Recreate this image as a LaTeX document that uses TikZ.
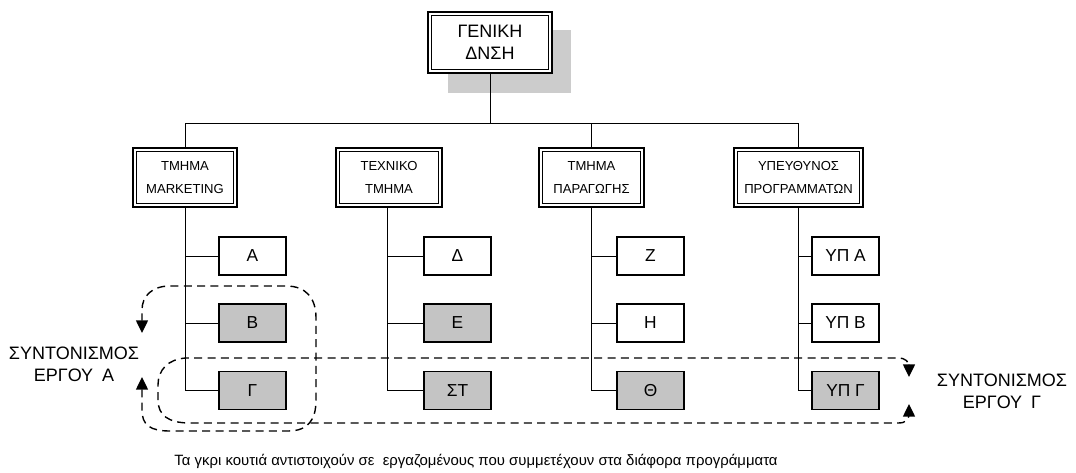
\documentclass[tikz,border=0pt]{standalone}
\usepackage{fontspec}
\setmainfont{Liberation Sans}
\usetikzlibrary{arrows.meta}
\definecolor{shadowgray}{RGB}{204,204,204}
\definecolor{staffgray}{RGB}{196,196,196}

\begin{document}
\begin{tikzpicture}[x=0.75pt,y=-0.75pt,
  conn/.style={line width=0.75pt},
  framed/.style={draw, line width=1.4pt, align=center, inner sep=0pt, fill=white,
    path picture={\draw[line width=0.6pt]
      ([shift={(2.6pt,-2.6pt)}]path picture bounding box.north west) rectangle
      ([shift={(-2.6pt,2.6pt)}]path picture bounding box.south east);}},
  headbox/.style={framed, minimum width={124*0.75pt}, minimum height={61*0.75pt},
    font=\fontsize{13.5}{16.5}\selectfont},
  deptbox/.style={framed, minimum height={59*0.75pt},
    font=\fontsize{9.8}{17}\selectfont},
  staff/.style={draw, line width=1.1pt, fill=white, inner sep=0pt,
    minimum width={67*0.75pt}, minimum height={38*0.75pt},
    font=\fontsize{13}{15}\selectfont},
  shared/.style={staff, fill=staffgray},
  loop/.style={dashed, dash pattern=on 6pt off 4pt, line width=1.05pt,
    {Triangle[width=9pt,length=9.5pt]}-{Triangle[width=9pt,length=9.5pt]}},
  lbl/.style={align=center, inner sep=0pt, font=\fontsize{13.5}{16.5}\selectfont},
  note/.style={inner sep=0pt, font=\fontsize{11.2}{13}\selectfont}]

\useasboundingbox (0,0) rectangle (1076,472);

% general management with its shadow
\fill[shadowgray] (448,30) rectangle (571,93);
\node[headbox] (top) at (490,42.5) {ΓΕΝΙΚΗ\\ΔΝΣΗ};

% departments
\node[deptbox, minimum width={104*0.75pt}] (mk) at (185,177.5) {ΤΜΗΜΑ\\MARKETING};
\node[deptbox, minimum width={106*0.75pt}] (tx) at (389,177.5) {ΤΕΧΝΙΚΟ\\ΤΜΗΜΑ};
\node[deptbox, minimum width={105*0.75pt}] (pr) at (591.5,177.5) {ΤΜΗΜΑ\\ΠΑΡΑΓΩΓΗΣ};
\node[deptbox, minimum width={129*0.75pt}] (yp) at (798.5,177.5) {ΥΠΕΥΘΥΝΟΣ\\ΠΡΟΓΡΑΜΜΑΤΩΝ};

% staff
\node[staff]  (a)  at (252.5,256) {Α};
\node[shared] (b)  at (252.5,323) {Β};
\node[shared] (c)  at (252.5,390.5) {Γ};
\node[staff]  (d)  at (457.5,256) {Δ};
\node[shared] (e)  at (457.5,323) {Ε};
\node[shared] (st) at (457.5,390.5) {ΣΤ};
\node[staff]  (z)  at (650.5,256) {Ζ};
\node[staff]  (h)  at (650.5,323) {Η};
\node[shared] (th) at (650.5,390.5) {Θ};
\node[staff]  (ya) at (845.5,256) {ΥΠ Α};
\node[staff]  (yb) at (845.5,323) {ΥΠ Β};
\node[shared] (yc) at (845.5,390.5) {ΥΠ Γ};

% hierarchy
\coordinate (bus) at (490,123);
\draw[conn] (top.south) -- (bus);
\draw[conn] (mk.north) |- (yp.north |- bus) -- (yp.north);
\draw[conn] (pr.north) -- (pr.north |- bus);

\draw[conn] (mk.south) |- (c.west);
\draw[conn] (mk.south |- a.west) -- (a.west);
\draw[conn] (mk.south |- b.west) -- (b.west);
\draw[conn] ([xshift=-1pt]tx.south) |- (st.west);
\draw[conn] ([xshift=-1pt]tx.south |- d.west) -- (d.west);
\draw[conn] ([xshift=-1pt]tx.south |- e.west) -- (e.west);
\draw[conn] (pr.south) |- (th.west);
\draw[conn] (pr.south |- z.west) -- (z.west);
\draw[conn] (pr.south |- h.west) -- (h.west);
\draw[conn] (yp.south) |- (yc.west);
\draw[conn] (yp.south |- ya.west) -- (ya.west);
\draw[conn] (yp.south |- yb.west) -- (yb.west);

% coordination of project A
\coordinate (pa1) at (142,377);
\coordinate (pa2) at (142,333);
\draw[loop] (pa1) -- (142,410) .. controls (142,425) and (150,431) .. (170,431)
  -- (288,431) .. controls (308,431) and (316,420) .. (316,400)
  -- (316,318) .. controls (316,298) and (306,286) .. (286,286)
  -- (170,286) .. controls (152,286) and (142,296) .. (142,310) -- (pa2);

% coordination of project C
\coordinate (pc1) at (909,404);
\coordinate (pc2) at (909,377);
\draw[loop] (pc1) -- (909,413) .. controls (909,420) and (906,423) .. (898,423)
  -- (190,423) .. controls (168,423) and (158,415) .. (158,400)
  -- (158,385) .. controls (158,370) and (168,359) .. (186,358)
  -- (898,358) .. controls (906,358) and (909,362) .. (909,367) -- (pc2);

\node[lbl] (la) at (74,364) {ΣΥΝΤΟΝΙΣΜΟΣ\\ΕΡΓΟΥ\enspace Α};
\node[lbl] (lc) at (1002,391) {ΣΥΝΤΟΝΙΣΜΟΣ\\ΕΡΓΟΥ\enspace Γ};

\node[note] (cap) at (476,461) {Τα γκρι κουτιά αντιστοιχούν σε\ \ εργαζομένους που συμμετέχουν στα διάφορα προγράμματα};
\end{tikzpicture}
\end{document}
